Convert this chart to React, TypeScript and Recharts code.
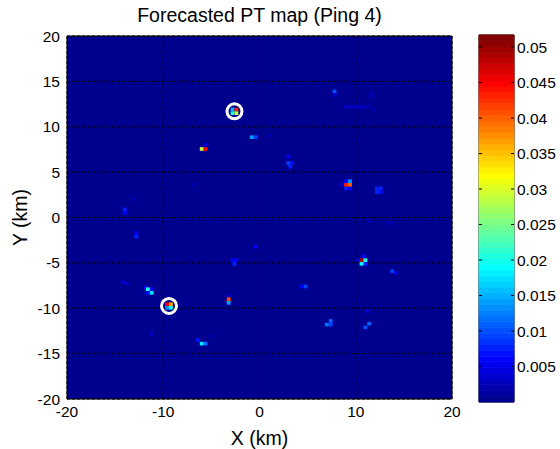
import {
    ScatterChart,
    Scatter,
    BarChart,
    Bar,
    XAxis,
    YAxis,
    CartesianGrid,
    ReferenceArea
} from "recharts"

const FONT = '"Liberation Sans", Arial, Helvetica, sans-serif'

// colour scale of the PT map (caxis) and the grid cell size, km
const VMAX = 0.0517
const CELL_KM = 0.4

const xTicks = [-20, -10, 0, 10, 20]
const yTicks = [-20, -15, -10, -5, 0, 5, 10, 15, 20]
const colorTicks = [0.005, 0.01, 0.015, 0.02, 0.025, 0.03, 0.035, 0.04, 0.045, 0.05]

// [x km, y km, PT]
const targetCells: [number, number, number][] = [
    [-2.8, 11.9, 0.015], [-2.4, 11.9, 0.043], [-2.8, 11.5, 0.021], [-2.4, 11.5, 0.029],
    [-9.6, -9.55, 0.045], [-9.2, -9.55, 0.037], [-9.6, -9.95, 0.013], [-9.2, -9.95, 0.02]
]

const strongCells: [number, number, number][] = [
    [-6.0, 7.55, 0.029], [-5.6, 7.55, 0.045],
    [-0.8, 8.85, 0.014], [-0.4, 8.85, 0.009],
    [9.0, 3.6, 0.043], [9.4, 3.6, 0.04], [9.4, 4.0, 0.013],
    [10.6, -4.7, 0.049], [11.0, -4.7, 0.021], [10.6, -5.1, 0.019],
    [-3.2, -9.0, 0.042], [-3.2, -9.4, 0.014],
    [-11.6, -7.9, 0.021], [-11.2, -8.3, 0.017],
    [-6.0, -13.9, 0.018], [-5.6, -13.9, 0.012]
]

const weakCells: [number, number, number][] = [
    [7.8, 13.9, 0.01], [7.8, 13.5, 0.004],
    [3.0, 6.7, 0.006], [3.0, 6.0, 0.009], [3.4, 6.0, 0.007], [3.2, 5.6, 0.008],
    [9.0, 3.2, 0.008], [9.4, 3.2, 0.006], [8.6, 3.6, 0.004], [9.0, 4.0, 0.006],
    [12.2, 3.2, 0.008], [12.6, 3.2, 0.008], [12.2, 2.8, 0.008], [12.6, 2.8, 0.007],
    [-5.6, 8.0, 0.004],
    [-14.0, 0.9, 0.008], [-14.0, 0.5, 0.006],
    [-12.8, -1.7, 0.006], [-12.8, -2.1, 0.008],
    [-0.4, -3.2, 0.006],
    [-2.8, -4.7, 0.005], [-2.4, -4.7, 0.006], [-2.6, -5.1, 0.008],
    [-14.2, -7.1, 0.004], [-13.8, -7.3, 0.004],
    [-11.8, -7.7, 0.006], [-11.2, -7.9, 0.006], [-11.6, -8.3, 0.006],
    [-3.2, -8.6, 0.004],
    [-6.4, -13.5, 0.007],
    [10.8, -4.3, 0.007], [11.0, -5.1, 0.008], [10.2, -4.7, 0.004],
    [13.8, -5.9, 0.009], [14.2, -6.1, 0.005],
    [4.4, -7.6, 0.006], [4.8, -7.6, 0.009],
    [7.4, -11.4, 0.011], [7.0, -11.8, 0.012], [7.4, -11.8, 0.009],
    [11.2, -10.3, 0.004], [11.4, -11.7, 0.011], [11.0, -12.1, 0.01]
]

const faintCells: [number, number, number][] = [
    [9.0, 12.2, 0.003], [9.4, 12.2, 0.003], [9.8, 12.2, 0.003], [10.2, 12.2, 0.003],
    [10.6, 12.2, 0.003], [11.0, 12.2, 0.002], [11.4, 12.2, 0.002], [11.8, 11.9, 0.002],
    [11.6, 13.7, 0.002], [11.6, 13.3, 0.002],
    [1.0, 9.0, 0.002], [-13.0, 2.0, 0.003], [-11.2, -12.8, 0.003], [-4.9, -13.1, 0.002],
    [-6.8, 3.6, 0.002], [13.4, -0.6, 0.002], [13.8, -0.6, 0.002], [11.4, -0.4, 0.002]
]

// circled detections
const targets = [
    { x: -2.6, y: 11.7 },
    { x: -9.4, y: -9.75 }
]

// MATLAB jet(64)
function jet(v: number) {
    const t = Math.min(Math.max(v / VMAX, 0), 1)
    const k = Math.min(63, Math.floor(t * 64))
    const s = (k + 1) / 64
    const c = (a: number) => Math.round(255 * Math.min(1, Math.max(0, a)))
    return `rgb(${c(Math.min(4 * s - 1.5, -4 * s + 4.5))},${c(Math.min(4 * s - 0.5, -4 * s + 3.5))},${c(Math.min(4 * s + 0.5, -4 * s + 2.5))})`
}

const toPoints = (rows: [number, number, number][]) => rows.map(([x, y, p]) => ({ x, y, p }))

const CHART_W = 470
const CHART_H = 449
const MARGIN = { top: 36, right: 18, bottom: 0, left: 0 }
const Y_AXIS_W = 67
const X_AXIS_H = 50
const PLOT_W = CHART_W - MARGIN.left - MARGIN.right - Y_AXIS_W
const PLOT_H = CHART_H - MARGIN.top - MARGIN.bottom - X_AXIS_H
const CELL_W = (PLOT_W * CELL_KM) / 40
const CELL_H = (PLOT_H * CELL_KM) / 40

const BAR_W = 35
const TICK_GAP = 3

function Cell(props: any) {
    const { cx, cy, payload } = props
    return (
        <rect
            x={cx - CELL_W / 2}
            y={cy - CELL_H / 2}
            width={CELL_W}
            height={CELL_H}
            fill={jet(payload.p)}
        />
    )
}

function Ring(props: any) {
    const { cx, cy } = props
    return <circle cx={cx} cy={cy} r={7.5} fill="none" stroke="#fff" strokeWidth={3} />
}

function BarTick(props: any) {
    const { x, y, payload } = props
    const right = x - TICK_GAP
    return (
        <g>
            <line x1={right - BAR_W} x2={right - BAR_W + 3} y1={y} y2={y} stroke="#000" />
            <line x1={right - 3} x2={right} y1={y} y2={y} stroke="#000" />
            <text x={x} y={y} dy="0.355em" textAnchor="start" fontSize={15.5} fill="#000">
                {String(payload.value)}
            </text>
        </g>
    )
}

// colorbar: 64 stacked levels of the colormap
const bands = Array.from({ length: 64 }, (_, k) => k)
const colorbarData = [
    Object.fromEntries([["name", "PT"], ...bands.map((k) => [`b${k}`, VMAX / 64])])
]

export default function App() {
    const tickStyle = { fontSize: 15.5, fill: "#000" }
    return (
        <div
            style={{
                position: "absolute",
                left: 0,
                top: 0,
                width: 560,
                height: 449,
                background: "#fff",
                fontFamily: FONT
            }}
        >
            <div
                style={{
                    position: "absolute",
                    left: 0,
                    top: 5.5,
                    width: 2 * (MARGIN.left + Y_AXIS_W) + PLOT_W,
                    textAlign: "center",
                    fontSize: 19.5,
                    lineHeight: "19.5px",
                    color: "#000"
                }}
            >
                Forecasted PT map (Ping 4)
            </div>

            <div style={{ position: "absolute", left: 0, top: 0 }}>
                <ScatterChart width={CHART_W} height={CHART_H} margin={MARGIN}>
                    <CartesianGrid
                        fill={jet(0)}
                        fillOpacity={1}
                        stroke="#000"
                        strokeDasharray="3 2"
                    />
                    <XAxis
                        type="number"
                        dataKey="x"
                        domain={[-20, 20]}
                        ticks={xTicks}
                        height={X_AXIS_H}
                        axisLine={false}
                        tickLine={false}
                        tickSize={6}
                        tickMargin={1}
                        tick={tickStyle}
                        label={{
                            value: "X (km)",
                            position: "insideBottom",
                            offset: 4,
                            style: { fontSize: 19.5, fill: "#000" }
                        }}
                    />
                    <YAxis
                        type="number"
                        dataKey="y"
                        domain={[-20, 20]}
                        ticks={yTicks}
                        width={Y_AXIS_W}
                        axisLine={false}
                        tickLine={false}
                        tickSize={6}
                        tickMargin={1}
                        tick={tickStyle}
                        label={{
                            value: "Y (km)",
                            angle: -90,
                            position: "insideLeft",
                            offset: 20,
                            style: { textAnchor: "middle", fontSize: 19.5, fill: "#000" }
                        }}
                    />
                    <Scatter data={toPoints(faintCells)} shape={Cell} isAnimationActive={false} />
                    <Scatter data={toPoints(weakCells)} shape={Cell} isAnimationActive={false} />
                    <Scatter data={toPoints(strongCells)} shape={Cell} isAnimationActive={false} />
                    <Scatter data={toPoints(targetCells)} shape={Cell} isAnimationActive={false} />
                    <Scatter data={targets} shape={Ring} isAnimationActive={false} />
                    <ReferenceArea
                        x1={-20}
                        x2={20}
                        y1={-20}
                        y2={20}
                        fill="none"
                        stroke="#000"
                        strokeWidth={1}
                        ifOverflow="visible"
                    />
                </ScatterChart>
            </div>

            <div style={{ position: "absolute", left: CHART_W, top: 0 }}>
                <BarChart
                    width={90}
                    height={CHART_H}
                    data={colorbarData}
                    margin={{ top: 35, right: 0, bottom: 47, left: 9 }}
                    barCategoryGap={0}
                    barGap={0}
                >
                    <XAxis dataKey="name" hide />
                    <YAxis
                        orientation="right"
                        type="number"
                        domain={[0, VMAX]}
                        ticks={colorTicks}
                        width={90 - 9 - BAR_W}
                        axisLine={false}
                        tickLine={false}
                        tickSize={0}
                        tickMargin={TICK_GAP}
                        tick={<BarTick />}
                    />
                    {bands.map((k) => {
                        const c = jet(((k + 0.5) * VMAX) / 64)
                        return (
                            <Bar
                                key={k}
                                dataKey={`b${k}`}
                                stackId="c"
                                fill={c}
                                stroke={c}
                                strokeWidth={0.8}
                                isAnimationActive={false}
                            />
                        )
                    })}
                    <ReferenceArea
                        y1={0}
                        y2={VMAX}
                        fill="none"
                        stroke="#000"
                        strokeWidth={1}
                        ifOverflow="visible"
                    />
                </BarChart>
            </div>
        </div>
    )
}
